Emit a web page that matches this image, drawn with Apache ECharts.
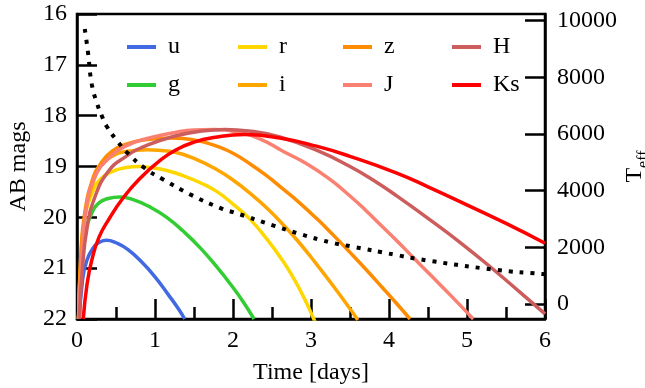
<!DOCTYPE html>
<html>
<head>
<meta charset="utf-8">
<script src="https://cdn.jsdelivr.net/npm/echarts@6/dist/echarts.min.js"></script>
<style>
html, body { margin: 0; padding: 0; background: #fff; }
#chart { width: 645px; height: 388px; }
</style>
</head>
<body>
<div id="chart"></div>
<script>
// light curves, [time in days, AB mag]
var u = [[0.03,22],[0.07,21.25],[0.12,20.88],[0.2,20.62],[0.3,20.48],[0.38,20.45],[0.5,20.5],[0.65,20.63],[0.83,20.88],[1.0,21.17],[1.17,21.52],[1.3,21.8],[1.38,22]];
var g = [[0.02,22],[0.06,20.9],[0.1,20.35],[0.18,19.95],[0.28,19.72],[0.4,19.63],[0.55,19.6],[0.72,19.65],[0.94,19.8],[1.15,20.0],[1.36,20.27],[1.58,20.6],[1.79,20.97],[2.0,21.38],[2.13,21.66],[2.27,22]];
var r = [[0.02,22],[0.06,20.6],[0.1,20.0],[0.2,19.5],[0.3,19.25],[0.45,19.1],[0.6,19.03],[0.8,19.0],[0.94,19.02],[1.15,19.08],[1.36,19.18],[1.58,19.32],[1.79,19.49],[2.0,19.74],[2.22,20.04],[2.43,20.42],[2.64,20.86],[2.77,21.18],[2.9,21.55],[3.03,21.98],[3.05,22.05]];
var i = [[0.02,22],[0.05,20.8],[0.1,20.0],[0.2,19.35],[0.3,19.0],[0.45,18.8],[0.65,18.7],[0.9,18.67],[1.04,18.68],[1.26,18.72],[1.5,18.84],[1.79,19.06],[2.03,19.3],[2.22,19.53],[2.45,19.84],[2.64,20.14],[2.85,20.5],[3.07,20.92],[3.3,21.38],[3.5,21.8],[3.6,22.02]];
var z = [[0.02,22],[0.05,20.7],[0.1,19.9],[0.2,19.25],[0.3,18.95],[0.45,18.7],[0.65,18.55],[0.9,18.47],[1.2,18.44],[1.36,18.45],[1.6,18.51],[1.79,18.6],[2.0,18.74],[2.22,18.95],[2.43,19.18],[2.64,19.44],[2.85,19.71],[3.07,20.02],[3.28,20.34],[3.5,20.69],[3.72,21.05],[3.92,21.39],[4.1,21.7],[4.27,22.0]];
var J = [[0.02,22],[0.06,20.8],[0.12,19.8],[0.23,19.2],[0.4,18.85],[0.62,18.6],[0.9,18.45],[1.26,18.33],[1.5,18.28],[1.75,18.27],[2.05,18.32],[2.35,18.46],[2.64,18.7],[2.95,18.95],[3.24,19.25],[3.5,19.58],[3.7,19.86],[3.9,20.16],[4.1,20.46],[4.33,20.82],[4.53,21.13],[4.8,21.55],[5.08,22.0]];
var H = [[0.03,22],[0.07,21.0],[0.13,20.2],[0.23,19.6],[0.4,19.1],[0.62,18.81],[0.9,18.58],[1.26,18.4],[1.6,18.3],[1.9,18.27],[2.2,18.3],[2.6,18.42],[3.07,18.68],[3.5,19.0],[3.8,19.27],[4.1,19.58],[4.5,20.02],[4.95,20.54],[5.38,21.08],[5.7,21.5],[6.0,21.9]];
var Ks = [[0.08,22],[0.13,21.3],[0.19,20.84],[0.28,20.4],[0.4,20.06],[0.6,19.6],[0.83,19.2],[1.05,18.9],[1.26,18.68],[1.5,18.52],[1.75,18.43],[2.15,18.37],[2.6,18.44],[3.07,18.6],[3.5,18.8],[4.1,19.13],[4.5,19.4],[4.95,19.72],[5.5,20.12],[6.0,20.51]];
// effective temperature, [time in days, K]
var teff = [[0.1,9700],[0.14,8900],[0.19,7750],[0.26,7050],[0.32,6620],[0.38,6270],[0.53,5700],[0.65,5320],[0.87,4790],[1.1,4400],[1.47,3840],[1.87,3345],[2.0,3240],[2.54,2750],[2.82,2500],[3.24,2180],[3.5,2040],[4.1,1725],[4.36,1590],[5.38,1200],[5.97,1056],[6.0,1050]];

var bandNames = ['u', 'g', 'r', 'i', 'z', 'J', 'H', 'Ks'];
var bandData = [u, g, r, i, z, J, H, Ks];
var bandColors = ['#4169E1', '#32CD32', '#FFD700', '#FFA500', '#FF8C00', '#FA8072', '#CD5C5C', '#FF0000'];
var legendCols = [['u', 'g'], ['r', 'i'], ['z', 'J'], ['H', 'Ks']];
var teffTicks = [0, 2000, 4000, 6000, 8000, 10000];

var font = 'Liberation Serif';
var fs = 24;

var chart = echarts.init(document.getElementById('chart'));

var series = bandNames.map(function(name, k) {
  return {
    name: name, type: 'line', data: bandData[k], smooth: true, showSymbol: false,
    xAxisIndex: 0, yAxisIndex: 0,
    lineStyle: { color: bandColors[k], width: 3.5 },
    itemStyle: { color: bandColors[k] }
  };
});
series.push({
  name: 'Teff', type: 'line', data: teff, smooth: true, showSymbol: false,
  yAxisIndex: 1,
  lineStyle: { color: '#000', width: 4, type: [4, 7], cap: 'butt' }
});

var legendLeft = [122, 233, 338, 447];

chart.setOption({
  animation: false,
  grid: {
    left: 77, right: 100, top: 14, bottom: 69, outerBoundsMode: 'none',
    show: true, borderColor: '#000', borderWidth: 2.5, backgroundColor: 'transparent'
  },
  legend: legendCols.map(function(names, k) {
    return {
      data: names, orient: 'vertical', left: legendLeft[k], top: 30,
      itemWidth: 29, itemHeight: 4, itemGap: 14, icon: 'rect', selectedMode: false,
      textStyle: { fontFamily: font, fontSize: fs, color: '#000', padding: [0, 0, 0, 7] }
    };
  }),
  xAxis: {
    type: 'value', min: 0, max: 6, interval: 1,
    name: 'Time [days]', nameLocation: 'middle', nameGap: 42,
    nameTextStyle: { fontFamily: font, fontSize: fs, color: '#000' },
    axisLine: { onZero: false, lineStyle: { color: '#000', width: 2.5 } },
    axisTick: { inside: true, length: 20, lineStyle: { color: '#000', width: 2.5 } },
    minorTick: { show: true, splitNumber: 2, length: 12, lineStyle: { color: '#000', width: 2.5 } },
    axisLabel: { fontFamily: font, fontSize: fs, color: '#000', margin: 10 },
    splitLine: { show: false }
  },
  yAxis: [{
    type: 'value', min: 16, max: 22, interval: 1, inverse: true,
    name: 'AB mags', nameLocation: 'middle', nameGap: 46,
    nameTextStyle: { fontFamily: font, fontSize: fs, color: '#000' },
    axisLine: { onZero: false, lineStyle: { color: '#000', width: 2.5 } },
    axisTick: { inside: true, length: 20, lineStyle: { color: '#000', width: 2.5 } },
    axisLabel: { fontFamily: font, fontSize: fs, color: '#000', margin: 10 },
    splitLine: { show: false }
  }, {
    type: 'value', position: 'right', min: -530, max: 10230,
    name: '{t|T}{s|eff}', nameLocation: 'middle', nameGap: 78, nameRotate: 90, nameMoveOverlap: false,
    nameTextStyle: {
      fontFamily: font, fontSize: fs, color: '#000',
      rich: {
        t: { fontFamily: font, fontSize: fs, color: '#000', verticalAlign: 'bottom' },
        s: { fontFamily: font, fontSize: 16, color: '#000', verticalAlign: 'bottom', padding: [0, 0, -5, 0] }
      }
    },
    axisLine: { show: true, onZero: false, lineStyle: { color: '#000', width: 2.5 } },
    axisTick: { inside: true, length: 20, customValues: teffTicks, lineStyle: { color: '#000', width: 2.5 } },
    axisLabel: {
      fontFamily: font, fontSize: fs, color: '#000', margin: 12, customValues: teffTicks,
      formatter: function(v) { return String(v); }
    },
    splitLine: { show: false }
  }],
  series: series
});
</script>
</body>
</html>
